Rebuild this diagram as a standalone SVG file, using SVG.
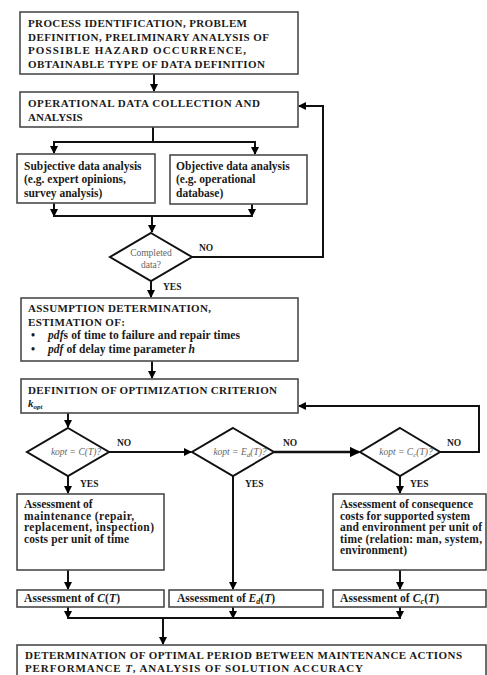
<svg xmlns="http://www.w3.org/2000/svg" width="487" height="675" viewBox="0 0 487 675">
<defs>
<marker id="ah" viewBox="0 0 8 8" refX="7" refY="4" markerWidth="4" markerHeight="4" orient="auto" markerUnits="strokeWidth">
<path d="M0,0 L8,4 L0,8 z" fill="#000"/>
</marker>
<style>
.box{fill:#fff;stroke:#4a4a4a;stroke-width:1.6}
.t{font-family:"Liberation Serif","Times New Roman",serif;font-weight:bold;font-size:11px;fill:#1a1a1a}
.m{font-family:"Liberation Serif","Times New Roman",serif;font-weight:bold;font-size:11.5px;fill:#1a1a1a}
.lb{font-family:"Liberation Serif","Times New Roman",serif;font-weight:bold;font-size:9.5px;fill:#1a1a1a}
.dt{font-family:"Liberation Serif","Times New Roman",serif;font-size:9.5px;fill:#666}
.di{font-family:"Liberation Serif","Times New Roman",serif;font-size:9.5px;font-style:italic;fill:#666}
.ln{fill:none;stroke:#111;stroke-width:2}
.ar{fill:none;stroke:#111;stroke-width:2;marker-end:url(#ah)}
.dia{fill:#fff;stroke:#111;stroke-width:2}
.i{font-style:italic}
</style>
</defs>
<rect width="487" height="675" fill="#fff"/>

<g id="connectors">
<path class="ar" d="M154,74 V91"/>
<path class="ar" d="M323,257 V106 H299"/>
<path class="ln" d="M153,127 V142 M54,142 H255"/>
<path class="ar" d="M54,141 V153"/>
<path class="ar" d="M255,141 V154"/>
<path class="ar" d="M54,203 V216"/>
<path class="ar" d="M252,204 V216"/>
<path class="ln" d="M53,216 H253"/>
<path class="ar" d="M152,216 V232"/>
<path class="ln" d="M192,257 H324"/>
<path class="ar" d="M151,281 V297"/>
<path class="ar" d="M152,361 V378"/>
<path class="ar" d="M68,413 V427"/>
<path class="ar" d="M109,452 H191"/>
<path class="ar" d="M274,452 H359" style="stroke-width:2.6"/>
<path class="ar" d="M440,452 H479 V406 H299"/>
<path class="ar" d="M68,476 V493"/>
<path class="ar" d="M233,476 V589"/>
<path class="ar" d="M400,476 V493"/>
<path class="ar" d="M68,570 V589"/>
<path class="ar" d="M400,570 V589"/>
<path class="ar" d="M68,607 V618"/>
<path class="ar" d="M233,607 V618"/>
<path class="ar" d="M400,607 V618"/>
<path class="ln" d="M67,618 H401"/>
<path class="ar" d="M163,618 V644"/>
</g>

<g id="n1">
<rect class="box" x="20" y="12" width="278" height="62"/>
<text class="t" x="28" y="27" textLength="219">PROCESS IDENTIFICATION, PROBLEM</text>
<text class="t" x="28" y="40.5" textLength="241">DEFINITION, PRELIMINARY ANALYSIS OF</text>
<text class="t" x="28" y="54" textLength="218">POSSIBLE HAZARD OCCURRENCE,</text>
<text class="t" x="28" y="67.5" textLength="237">OBTAINABLE TYPE OF DATA DEFINITION</text>
</g>

<g id="n2">
<rect class="box" x="20" y="92" width="278" height="35"/>
<text class="t" x="28" y="107" textLength="232">OPERATIONAL DATA COLLECTION AND</text>
<text class="t" x="28" y="121">ANALYSIS</text>
</g>

<g id="n3">
<rect class="box" x="17" y="154" width="138" height="49"/>
<text class="m" x="24" y="169.5">Subjective data analysis</text>
<text class="m" x="24" y="183">(e.g. expert opinions,</text>
<text class="m" x="24" y="196.5">survey analysis)</text>
</g>

<g id="n4">
<rect class="box" x="170" y="155" width="137" height="49"/>
<text class="m" x="176" y="169.5">Objective data analysis</text>
<text class="m" x="176" y="183">(e.g. operational</text>
<text class="m" x="176" y="196.5">database)</text>
</g>

<g id="d0">
<polygon class="dia" points="151,233 192,257 151,281 110,257"/>
<text class="dt" x="151" y="256" text-anchor="middle">Completed</text>
<text class="dt" x="151" y="268" text-anchor="middle">data?</text>
<text class="lb" x="199" y="251">NO</text>
<text class="lb" x="163" y="290">YES</text>
</g>

<g id="n5">
<rect class="box" x="21" y="298" width="277" height="63"/>
<text class="t" x="28" y="312" textLength="183">ASSUMPTION DETERMINATION,</text>
<text class="t" x="28" y="326" textLength="97">ESTIMATION OF:</text>
<text class="m" x="31" y="339">•</text>
<text class="m" x="48" y="339" textLength="192"><tspan class="i">pdf</tspan>s of time to failure and repair times</text>
<text class="m" x="31" y="353">•</text>
<text class="m" x="48" y="353" textLength="147"><tspan class="i">pdf</tspan> of delay time parameter <tspan class="i">h</tspan></text>
</g>

<g id="n6">
<rect class="box" x="21" y="379" width="277" height="34"/>
<text class="t" x="28" y="394" textLength="249">DEFINITION OF OPTIMIZATION CRITERION</text>
<text class="t" x="28" y="407"><tspan class="i">k</tspan><tspan class="i" dy="2" font-size="7">opt</tspan></text>
</g>

<g id="d1">
<polygon class="dia" points="68,428 109,452 68,476 27,452"/>
<text class="di" x="76" y="455" text-anchor="middle">kopt = C(T)?</text>
<text class="lb" x="117" y="446">NO</text>
<text class="lb" x="80" y="487">YES</text>
</g>

<g id="d2">
<polygon class="dia" points="233,428 274,452 233,476 192,452"/>
<text class="di" x="240" y="455" text-anchor="middle">kopt = E<tspan dy="2" font-size="7">d</tspan><tspan dy="-2">(T)?</tspan></text>
<text class="lb" x="283" y="446">NO</text>
<text class="lb" x="245" y="487">YES</text>
</g>

<g id="d3">
<polygon class="dia" points="400,428 440,452 400,476 360,452"/>
<text class="di" x="406" y="455" text-anchor="middle">kopt = C<tspan dy="2" font-size="7">c</tspan><tspan dy="-2">(T)?</tspan></text>
<text class="lb" x="447" y="446">NO</text>
<text class="lb" x="410" y="487">YES</text>
</g>

<g id="n7">
<rect class="box" x="17" y="494" width="147" height="76"/>
<text class="m" x="24" y="508">Assessment of</text>
<text class="m" x="24" y="519.5" textLength="110">maintenance (repair,</text>
<text class="m" x="24" y="531" textLength="130">replacement, inspection)</text>
<text class="m" x="24" y="542.5" textLength="105">costs per unit of time</text>
</g>

<g id="n9">
<rect class="box" x="333" y="494" width="153" height="76"/>
<text class="m" x="340" y="508" textLength="133">Assessment of consequence</text>
<text class="m" x="340" y="519.5" textLength="130">costs for supported system</text>
<text class="m" x="340" y="531" textLength="142">and environment per unit of</text>
<text class="m" x="340" y="542.5" textLength="142">time (relation: man, system,</text>
<text class="m" x="340" y="554" textLength="67">environment)</text>
</g>

<g id="n10">
<rect class="box" x="17" y="590" width="147" height="17"/>
<text class="m" x="24" y="602" textLength="96">Assessment of <tspan class="i">C</tspan>(<tspan class="i">T</tspan>)</text>
</g>

<g id="n11">
<rect class="box" x="169" y="590" width="154" height="17"/>
<text class="m" x="177" y="602" textLength="98">Assessment of <tspan class="i">E</tspan><tspan class="i" dy="2" font-size="8">d</tspan><tspan dy="-2">(</tspan><tspan class="i">T</tspan>)</text>
</g>

<g id="n12">
<rect class="box" x="333" y="590" width="153" height="17"/>
<text class="m" x="340" y="602" textLength="99">Assessment of <tspan class="i">C</tspan><tspan class="i" dy="2" font-size="8">c</tspan><tspan dy="-2">(</tspan><tspan class="i">T</tspan>)</text>
</g>

<g id="n13">
<rect class="box" x="17" y="645" width="469" height="40"/>
<text class="t" x="25" y="658.5" textLength="437">DETERMINATION OF OPTIMAL PERIOD BETWEEN MAINTENANCE ACTIONS</text>
<text class="t" x="25" y="672" textLength="338">PERFORMANCE <tspan class="i">T</tspan>, ANALYSIS OF SOLUTION ACCURACY</text>
</g>
</svg>
